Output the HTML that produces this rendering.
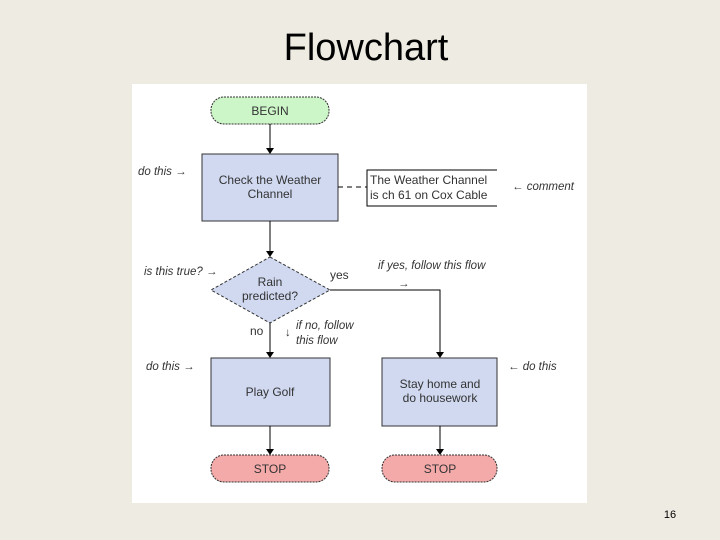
<!DOCTYPE html><html><head><style>body{margin:0;background:#eeebe2;width:720px;height:540px;overflow:hidden;font-family:"Liberation Sans",sans-serif}</style></head><body>
<svg width="720" height="540" xmlns="http://www.w3.org/2000/svg" style="position:absolute;left:0;top:0">
<text x="366" y="60" font-size="38" text-anchor="middle" fill="#000" font-family="Liberation Sans">Flowchart</text>
<rect x="132" y="84" width="455" height="419" fill="#fff"/>
<g font-family="Liberation Sans" font-size="12" fill="#333">
<rect x="211" y="97" width="118" height="27" rx="13" fill="#ccf5c8" stroke="#333" stroke-dasharray="2,1"/>
<text x="270" y="115" text-anchor="middle">BEGIN</text>
<line x1="270" y1="124" x2="270" y2="150" stroke="#000"/><path d="M266 148 L274 148 L270 154Z" fill="#000"/>
<rect x="202" y="154" width="136" height="67" fill="#d0d9f0" stroke="#333"/>
<text x="270" y="184" text-anchor="middle">Check the Weather</text><text x="270" y="198" text-anchor="middle">Channel</text>
<line x1="338" y1="187" x2="367" y2="187" stroke="#000" stroke-dasharray="5,4"/>
<path d="M497 170 H367 V206 H497" fill="none" stroke="#000"/>
<text x="370" y="184">The Weather Channel</text><text x="370" y="199">is ch 61 on Cox Cable</text>
<line x1="270" y1="221" x2="270" y2="253" stroke="#000"/><path d="M266 251 L274 251 L270 257Z" fill="#000"/>
<path d="M270 257 L330 290 L270 323 L211 290Z" fill="#d0d9f0" stroke="#333" stroke-dasharray="3,2"/>
<text x="270" y="286" text-anchor="middle">Rain</text><text x="270" y="300" text-anchor="middle">predicted?</text>
<path d="M330 290 H440 V354" fill="none" stroke="#000"/><path d="M436 352 L444 352 L440 358Z" fill="#000"/>
<line x1="270" y1="323" x2="270" y2="354" stroke="#000"/><path d="M266 352 L274 352 L270 358Z" fill="#000"/>
<text x="330" y="279">yes</text><text x="250" y="335">no</text>
<rect x="211" y="358" width="119" height="68" fill="#d0d9f0" stroke="#333"/>
<text x="270" y="396" text-anchor="middle">Play Golf</text>
<rect x="382" y="358" width="115" height="68" fill="#d0d9f0" stroke="#333"/>
<text x="440" y="388" text-anchor="middle">Stay home and</text><text x="440" y="402" text-anchor="middle">do housework</text>
<line x1="270" y1="426" x2="270" y2="451" stroke="#000"/><path d="M266 449 L274 449 L270 455Z" fill="#000"/>
<line x1="440" y1="426" x2="440" y2="451" stroke="#000"/><path d="M436 449 L444 449 L440 455Z" fill="#000"/>
<rect x="211" y="455" width="118" height="27" rx="13" fill="#f5aaaa" stroke="#333" stroke-dasharray="2,1"/>
<text x="270" y="473" text-anchor="middle">STOP</text>
<rect x="382" y="455" width="115" height="27" rx="13" fill="#f5aaaa" stroke="#333" stroke-dasharray="2,1"/>
<text x="440" y="473" text-anchor="middle">STOP</text>
<g font-style="italic" font-size="11.5">
<text x="138" y="175">do this →</text>
<text x="512" y="190">← comment</text>
<text x="144" y="275">is this true? →</text>
<text x="378" y="269">if yes, follow this flow</text><text x="398" y="287">→</text>
<text x="296" y="329">if no, follow</text><text x="296" y="344">this flow</text><text x="285" y="336">↓</text>
<text x="146" y="370">do this →</text>
<text x="508" y="370">← do this</text>
</g></g>
<text x="670" y="518" font-size="11" text-anchor="middle" font-family="Liberation Sans">16</text>
</svg></body></html>
